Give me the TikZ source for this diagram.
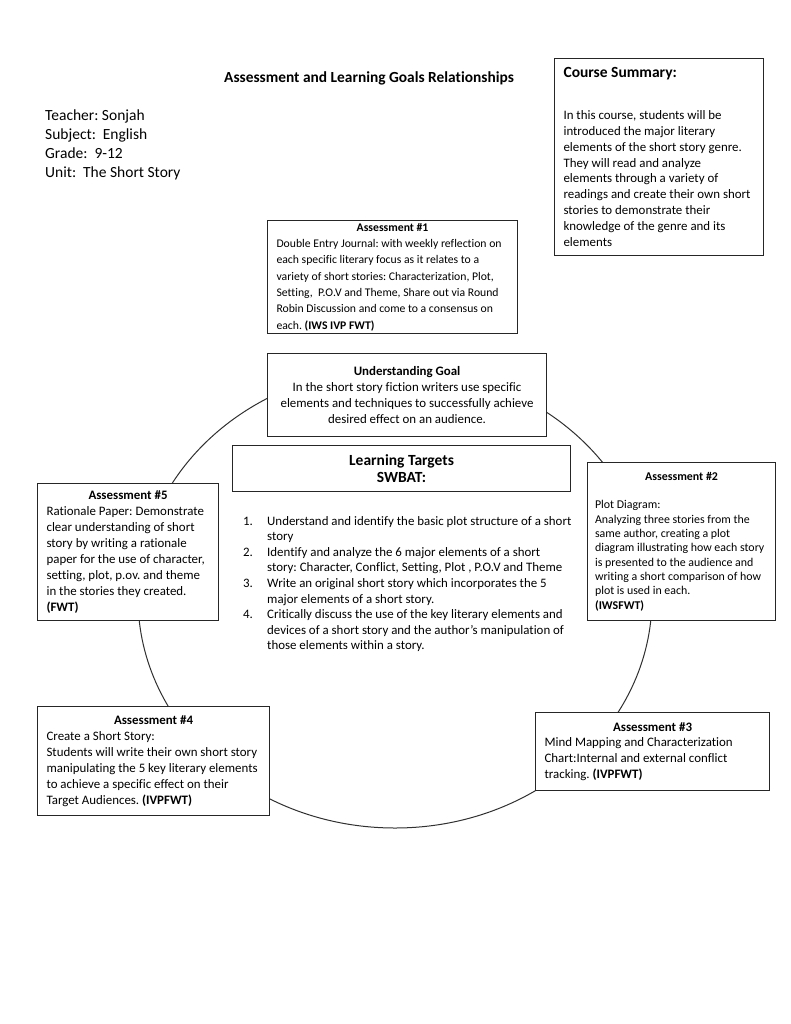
\documentclass[tikz,border=0pt]{standalone}
\usepackage{fontspec}
\setmainfont{Carlito}[Ligatures=NoCommon]
\usetikzlibrary{positioning}
\setlength{\parindent}{0pt}
\frenchspacing
\hyphenpenalty=10000
\exhyphenpenalty=10000

\definecolor{boxLine}{HTML}{262626}
\definecolor{ringLine}{HTML}{303030}

\newcommand{\tensize}{\fontsize{12.9}{15.8}\selectfont}
\newcommand{\ninesize}{\fontsize{11.7}{16.3}\selectfont}
\newcommand{\twelvesize}{\fontsize{15.5}{19}\selectfont}

\begin{document}
\begin{tikzpicture}[
    x=1pt, y=-1pt,
    font=\tensize,
    box/.style={rectangle, draw=boxLine, line width=1.1pt, fill=white,
                anchor=north west, inner xsep=9pt, inner ysep=2pt, align=flush left},
    heading/.style={font=\fontsize{15.4}{18}\selectfont\bfseries},
    ring/.style={draw=ringLine, line width=1pt},
  ]
  \useasboundingbox (0,0) rectangle (791,1024);

  % CYCLE
  \coordinate (hub) at (395,598);
  \draw[ring] (hub) ellipse [x radius=257, y radius=230];

  % HEADER
  \node[heading] (title) at (369,78) {Assessment and Learning Goals Relationships};
  \node[anchor=north west, align=left, font=\twelvesize, inner sep=0pt] (teacher) at (45,110)
    {Teacher: Sonjah\\ Subject:\ \ English\\ Grade:\ \ 9-12\\ Unit:\ \ The Short Story};

  % COURSE SUMMARY
  \node[box, text width=191pt, minimum height=197pt] (course) at (554,58)
    {{\twelvesize\bfseries Course Summary:\par}\vspace{26pt}%
     In this course, students will be\\ introduced the major literary\\
     elements of the short story genre.\\ They will read and analyze\\
     elements through a variety of\\ readings and create their own short\\
     stories to demonstrate their\\ knowledge of the genre and its\\ elements};

  % ASSESSMENT #1
  \node[box, font=\ninesize, text width=232pt, minimum height=113pt] (asmt1) at (267,220)
    {{\centering\bfseries Assessment \#1\par}%
     Double Entry Journal: with weekly reflection on\\
     each specific literary focus as it relates to a\\
     variety of short stories: Characterization, Plot,\\
     Setting,\ \ P.O.V and Theme, Share out via Round\\
     Robin Discussion and come to a consensus on\\
     each. \textbf{(IWS IVP FWT)}};

  % UNDERSTANDING GOAL
  \node[box, align=flush center, text width=261pt, minimum height=83pt] (goal) at (267,353)
    {\textbf{Understanding Goal}\\ In the short story fiction writers use specific\\
     elements and techniques to successfully achieve\\ desired effect on an audience.};

  % LEARNING TARGETS
  \node[box, align=flush center, font=\fontsize{15.5}{17.5}\selectfont\bfseries,
        text width=320pt, minimum height=46pt] (targets) at (232,445)
    {Learning Targets\\ SWBAT:};
  \node[anchor=north west, inner sep=0pt, font=\fontsize{12.9}{15.6}\selectfont] (tlist) at (243,514)
    {\begin{tabular}{@{}p{24pt}@{}l@{}}
      1. & Understand and identify the basic plot structure of a short\\
         & story\\
      2. & Identify and analyze the 6 major elements of a short\\
         & story: Character, Conflict, Setting, Plot , P.O.V and Theme\\
      3. & Write an original short story which incorporates the 5\\
         & major elements of a short story.\\
      4. & Critically discuss the use of the key literary elements and\\
         & devices of a short story and the author’s manipulation of\\
         & those elements within a story.
     \end{tabular}};

  % ASSESSMENT #2
  \node[box, font=\fontsize{11.9}{14.3}\selectfont, inner xsep=7.5pt, text width=173pt,
        minimum height=158pt] (asmt2) at (587,462)
    {{\centering\bfseries Assessment \#2\par}\vspace{14.3pt}%
     Plot Diagram:\\ Analyzing three stories from the\\ same author, creating a plot\\
     diagram illustrating how each story\\ is presented to the audience and\\
     writing a short comparison of how\\ plot is used in each.\\
     \textbf{(IWSFWT)}};

  % ASSESSMENT #3
  \node[box, text width=216pt, minimum height=78pt] (asmt3) at (535,712)
    {{\centering\bfseries Assessment \#3\par}%
     Mind Mapping and Characterization\\ Chart:Internal and external conflict\\
     tracking. \textbf{(IVPFWT)}};

  % ASSESSMENT #4
  \node[box, font=\fontsize{12.9}{16}\selectfont, text width=214pt, minimum height=109pt] (asmt4) at (37,706)
    {{\centering\bfseries Assessment \#4\par}%
     Create a Short Story:\\ Students will write their own short story\\
     manipulating the 5 key literary elements\\ to achieve a specific effect on their\\
     Target Audiences. \textbf{(IVPFWT)}};

  % ASSESSMENT #5
  \node[box, font=\fontsize{12.9}{16}\selectfont, text width=163pt, minimum height=137pt] (asmt5) at (37,483)
    {{\centering\bfseries Assessment \#5\par}%
     Rationale Paper: Demonstrate\\ clear understanding of short\\
     story by writing a rationale\\ paper for the use of character,\\
     setting, plot, p.ov. and theme\\ in the stories they created.\\
     \textbf{(FWT)}};

\end{tikzpicture}
\end{document}
